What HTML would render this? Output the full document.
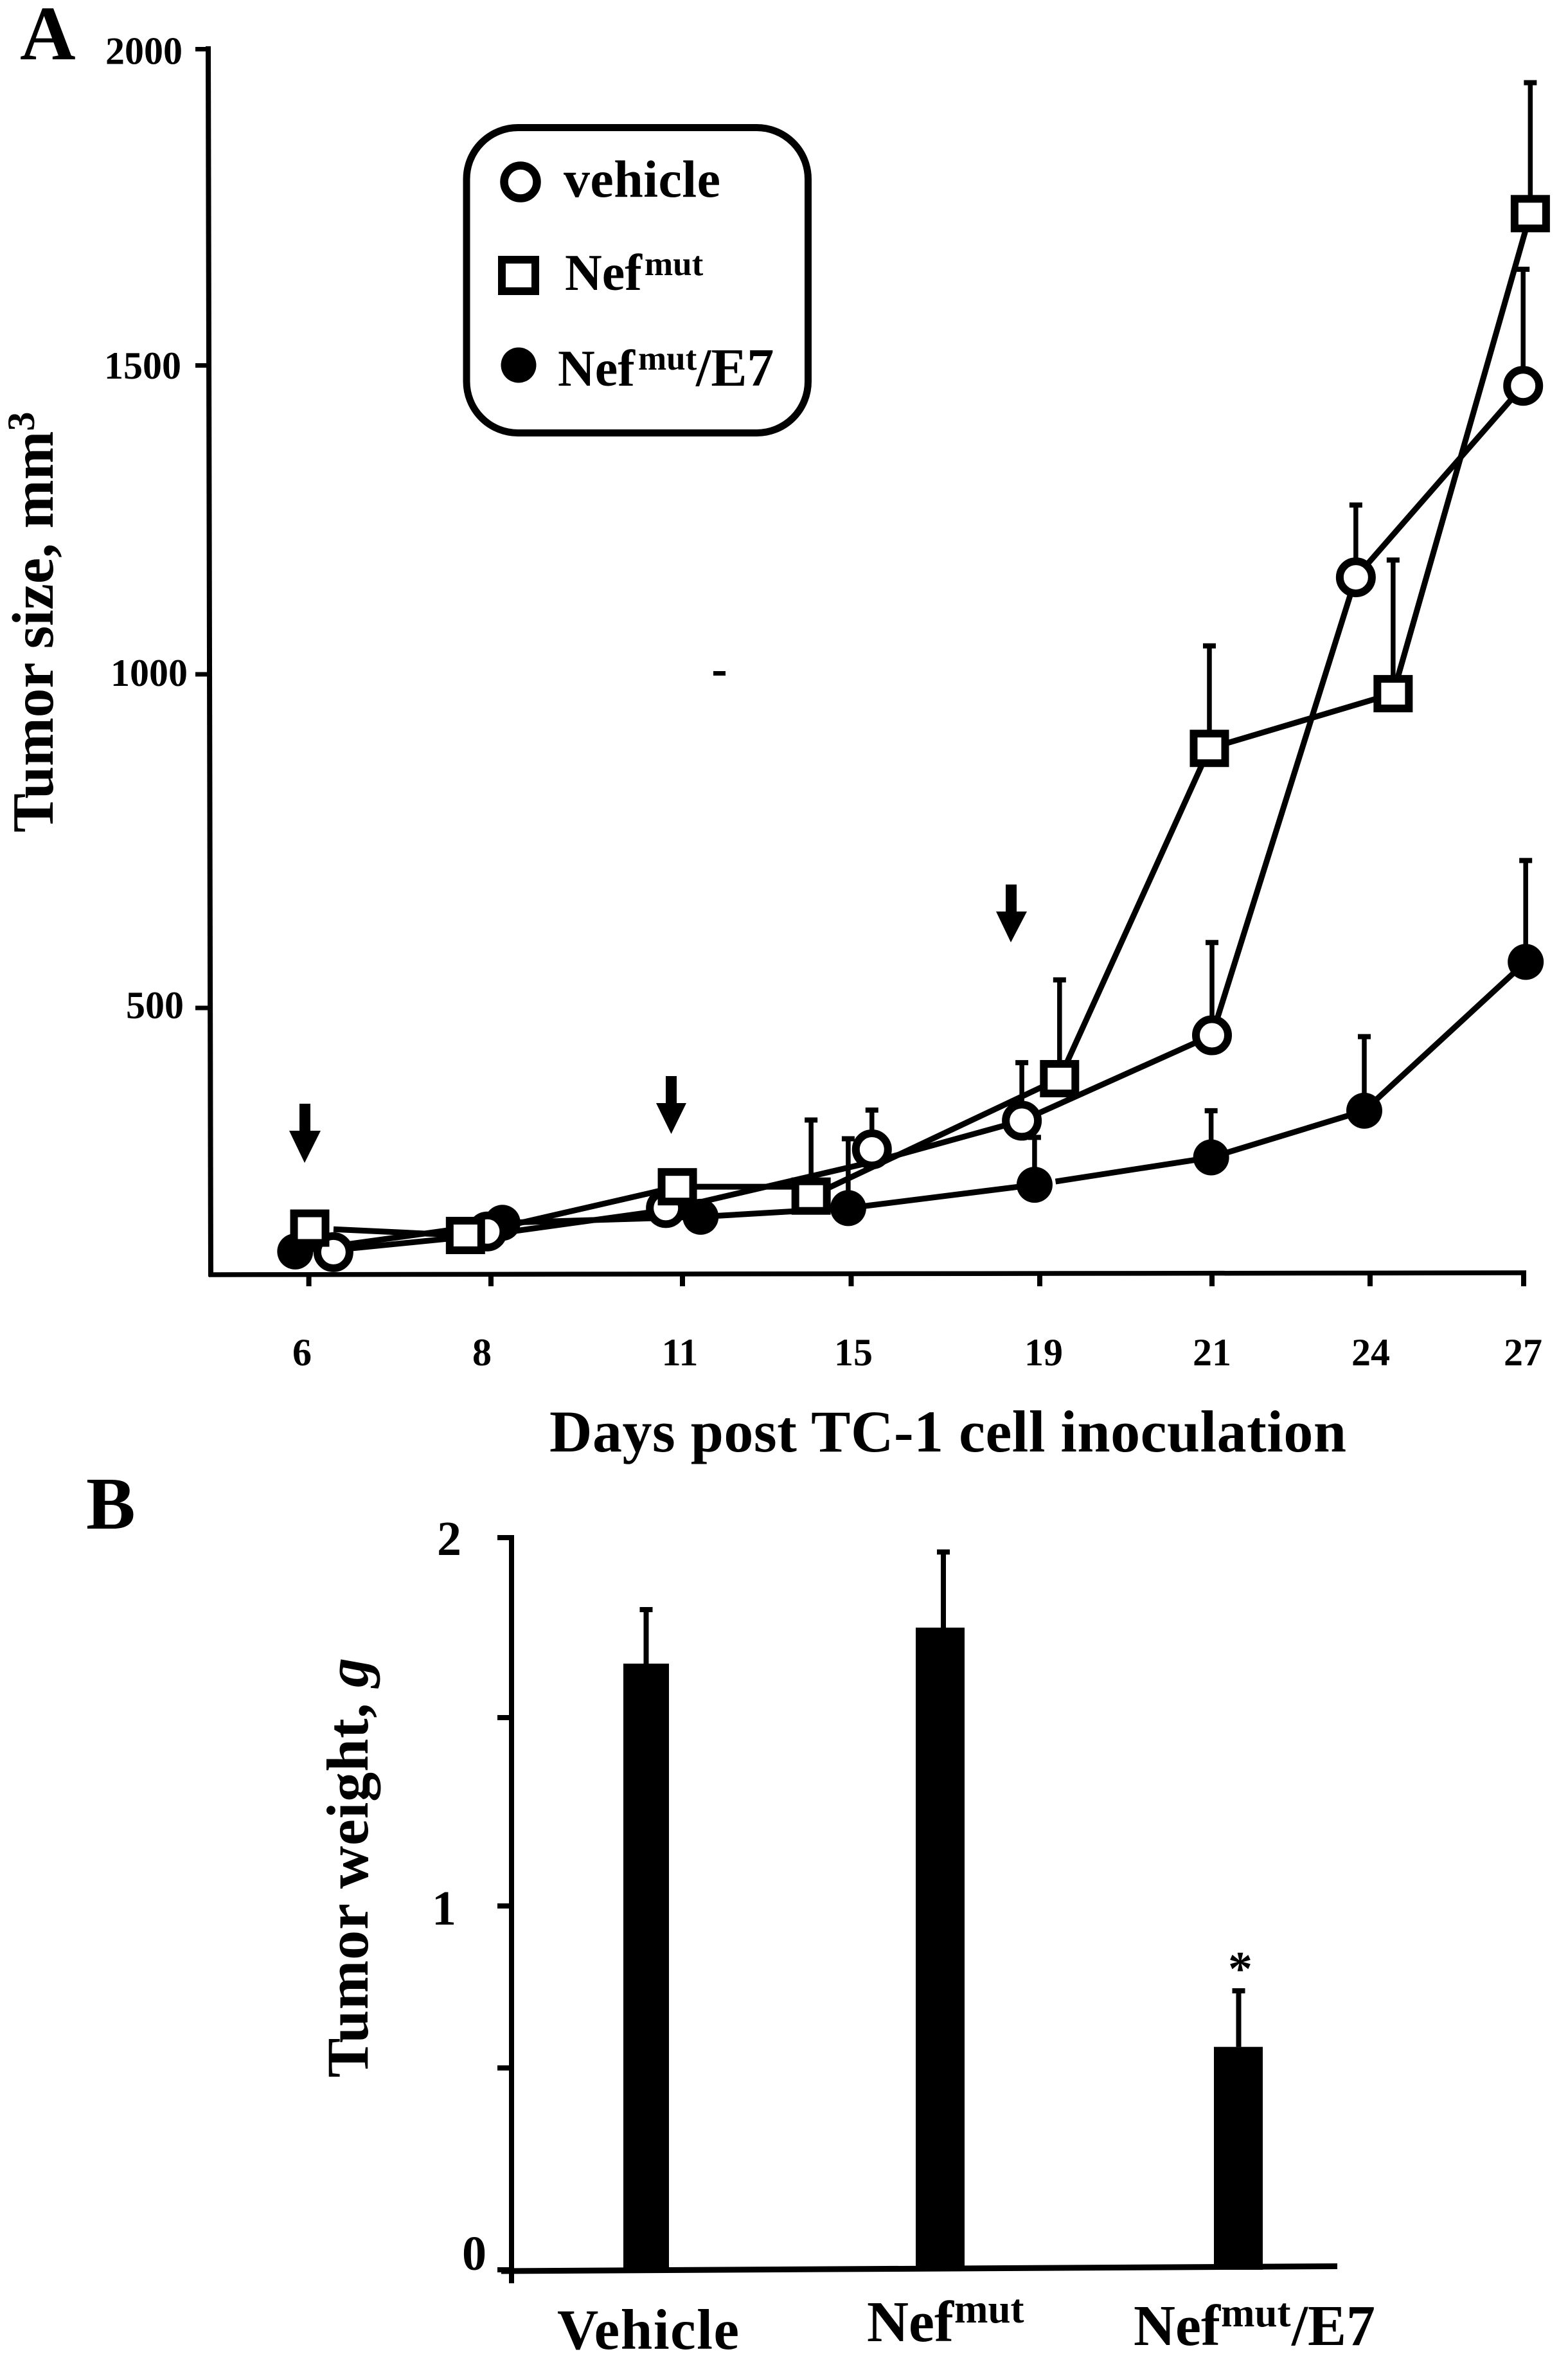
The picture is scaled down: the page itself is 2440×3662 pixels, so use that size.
<!DOCTYPE html>
<html lang="en">
<head>
<meta charset="utf-8">
<title>Tumor size and weight</title>
<style>
  html, body { margin: 0; padding: 0; background: #fff; }
  svg { display: block; }
  text { font-family: "Liberation Serif", serif; font-weight: bold; fill: #000; }
</style>
</head>
<body>
<svg id="figure" xmlns="http://www.w3.org/2000/svg" width="2440" height="3662" viewBox="0 0 2440 3662">
  <rect x="0" y="0" width="2440" height="3662" fill="#fff"/>

  <text x="31" y="92" font-size="120">A</text>
  <text x="134" y="2378" font-size="115">B</text>

  <g id="panelA"></g>

  <text transform="translate(82,1295) rotate(-90)" font-size="91">Tumor size, mm<tspan font-size="60" dy="-29">3</tspan></text>
  <text x="855" y="2258" font-size="92" textLength="1240">Days post TC-1 cell inoculation</text>
  <rect x="1110" y="1044" width="19" height="7" fill="#000"/>

  <polygon fill="#000" points="466,1717 483,1717 483,1759 499,1759 474,1809 450,1759 466,1759"/>
  <polygon fill="#000" points="1036,1674 1053,1674 1053,1716 1068,1716 1044.5,1764 1021,1716 1036,1716"/>
  <polygon fill="#000" points="1565,1376 1582,1376 1582,1418 1598,1418 1573,1466 1550,1418 1565,1418"/>

  <g>
    <rect x="726" y="198.5" width="531.5" height="475" rx="80" ry="80" fill="#fff" stroke="#000" stroke-width="11"/>
    <circle cx="810" cy="283" r="25.5" fill="#fff" stroke="#000" stroke-width="12.5"/>
    <text x="877" y="306" font-size="82" textLength="244">vehicle</text>
    <rect x="781" y="404" width="52" height="49" fill="#fff" stroke="#000" stroke-width="12"/>
    <text x="879" y="451" font-size="80">Nef<tspan x="1003" y="428" font-size="53">mut</tspan></text>
    <circle cx="807" cy="568" r="27.5" fill="#000"/>
    <text x="868" y="600" font-size="80">Nef<tspan x="993" y="575" font-size="53">mut</tspan><tspan x="1083" y="600" font-size="84">/E7</tspan></text>
  </g>

  <g id="panelB"></g>

  <text transform="translate(572,3232) rotate(-90)" font-size="92" textLength="653">Tumor weight, <tspan font-style="italic">g</tspan></text>
  <text x="1911" y="3088" font-size="76">*</text>
</svg>

<script>
// ---------- Panel A data ----------
const dayTicks = [6, 8, 11, 15, 19, 21, 24, 27];
const dayLabels = ["6", "8", "11", "15", "19", "21", "24", "27"];
const sizeTicks = [500, 1000, 1500, 2000];
const sizeLabels = ["500", "1000", "1500", "2000"];

const vehicleDays = [6.27, 7.96, 10.74, 15.44, 18.62, 21, 23.73, 26.99];
const vehicleSize = [134, 165, 200, 288, 331, 459, 1157, 1467];
const vehicleUpper = [null, null, null, 347, 418, 598, 1274, 1652];
// The printed connecting line misses some marker centres.
const vehicleLineSize = [137, 160, 197, 269, 331, 459, 1157, 1467];

const nefDays = [6.01, 7.72, 10.92, 14.05, 19.23, 20.97, 24.45, 27.13];
const nefSize = [170, 159, 232, 218, 394, 889, 971, 1740];
const nefUpper = [null, null, null, 332, 542, 1046, 1185, 1947];
// The printed line enters the fourth square flat and leaves it lower down.
const nefLineDays = [6.01, 7.72, 10.92, 14.05, 14.05, 19.23, 20.97, 24.45, 27.13];
const nefLineSize = [170, 159, 232, 232, 218, 394, 889, 971, 1740];

const nefE7Days = [5.85, 8.18, 11.43, 14.93, 18.89, 20.99, 23.89, 27.04];
const nefE7Size = [135, 178, 187, 200, 235, 276, 346, 569];
const nefE7Upper = [null, null, null, 304, 306, 346, 457, 721];

// ---------- Panel B data ----------
const weightGroups = ["Vehicle", "Nef", "Nef/E7"];
const weightMeans = [1.65, 1.75, 0.565];
const weightUpper = [1.80, 1.96, 0.738];
const weightTicks = [0, 0.5, 1, 1.5, 2];
const weightTickLabels = ["0", "", "1", "", "2"];

const SVG_NS = "http://www.w3.org/2000/svg";

function mk(parent, tag, attrs) {
  const el = document.createElementNS(SVG_NS, tag);
  Object.keys(attrs).forEach(function (k) { el.setAttribute(k, attrs[k]); });
  parent.appendChild(el);
  return el;
}

function piecewise(v, domain, range) {
  let i = 0;
  while (i < domain.length - 2 && v > domain[i + 1]) { i++; }
  const t = (v - domain[i]) / (domain[i + 1] - domain[i]);
  return range[i] + t * (range[i + 1] - range[i]);
}

// The printed axes are not evenly spaced, so the scales follow the printed ticks.
function xDay(day) {
  return piecewise(day, dayTicks, [480.6, 764, 1062, 1324.5, 1618, 1886, 2132, 2371]);
}
function ySize(size) {
  return piecewise(size, sizeTicks, [1568, 1049, 568.5, 76.5]);
}
function xGroup(i) {
  return [1005.5, 1463, 1927][i];
}
function yWeight(w) {
  return piecewise(w, weightTicks, [3531, 3217, 2965, 2672, 2392]);
}

const panelA = document.getElementById("panelA");
const panelB = document.getElementById("panelB");

// ---------- Panel A axes ----------
const yAxisA = mk(panelA, "line", { x1: 324, y1: 72, x2: 328, y2: 1986, stroke: "#000", "stroke-width": 8 });



const xAxisA = mk(panelA, "line", { x1: 325, y1: 1983, x2: 2375, y2: 1980, stroke: "#000", "stroke-width": 7.5 });



sizeTicks.forEach(function (v, i) {
  const y = ySize(v);
  const tick = mk(panelA, "line", { x1: 304, y1: y, x2: 326, y2: y, stroke: "#000", "stroke-width": 7 });
  
  
  const right = { 500: 286, 1000: 292, 1500: 282, 2000: 284 }[v];
  const drop = { 500: 16, 1000: 18, 1500: 20.5, 2000: 23 }[v];
  const label = mk(panelA, "text", { x: right, y: y + drop, "font-size": 60, "text-anchor": "end" });
  label.textContent = sizeLabels[i];
  
  
});

const dayLabelNudge = [-10.6, -14, -4, 3.5, 6, 0, 1, -1];
dayTicks.forEach(function (d, i) {
  const x = xDay(d);
  const tick = mk(panelA, "line", { x1: x, y1: 1981, x2: x, y2: 2001, stroke: "#000", "stroke-width": 8 });
  
  
  const label = mk(panelA, "text", { x: x + dayLabelNudge[i], y: 2124, "font-size": 60, "text-anchor": "middle" });
  label.textContent = dayLabels[i];
  
  
});

// ---------- Panel A series ----------
function drawErrorBars(name, days, means, upper) {
  days.forEach(function (d, i) {
    if (upper[i] === null) { return; }
    const x = xDay(d);
    const stem = mk(panelA, "line", { x1: x, y1: ySize(means[i]), x2: x, y2: ySize(upper[i]), stroke: "#000", "stroke-width": 7.5 });
    
    
    const cap = mk(panelA, "line", { x1: x - 10, y1: ySize(upper[i]), x2: x + 10, y2: ySize(upper[i]), stroke: "#000", "stroke-width": 8 });
    
    
  });
}

function drawLine(name, days, means) {
  const pts = days.map(function (d, i) { return xDay(d) + "," + ySize(means[i]); }).join(" ");
  const line = mk(panelA, "polyline", { points: pts, fill: "none", stroke: "#000", "stroke-width": 9, "stroke-linejoin": "round" });
  
  
}

// The printed figure has a small white break where a line leaves some markers.
function drawLineGap(name, days, means, i, reach) {
  const x1 = xDay(days[i]);
  const y1 = ySize(means[i]);
  const x2 = xDay(days[i + 1]);
  const y2 = ySize(means[i + 1]);
  const len = Math.hypot(x2 - x1, y2 - y1);
  const gap = mk(panelA, "line", { x1: x1, y1: y1, x2: x1 + (x2 - x1) * reach / len, y2: y1 + (y2 - y1) * reach / len, stroke: "#fff", "stroke-width": 12 });
  
  
}

// Error bars and lines sit under all of the markers.
drawErrorBars("nef-e7", nefE7Days, nefE7Size, nefE7Upper);
drawErrorBars("vehicle", vehicleDays, vehicleSize, vehicleUpper);
drawErrorBars("nef", nefDays, nefSize, nefUpper);
drawLine("nef-e7", nefE7Days, nefE7Size);
drawLine("vehicle", vehicleDays, vehicleLineSize);
drawLine("nef", nefLineDays, nefLineSize);
drawLineGap("nef", nefDays, nefSize, 0, 37);
drawLineGap("nef-e7", nefE7Days, nefE7Size, 4, 33);

nefE7Days.forEach(function (d, i) {
  const m = mk(panelA, "circle", { cx: xDay(d), cy: ySize(nefE7Size[i]), r: 28, fill: "#000" });
  
  
});
vehicleDays.forEach(function (d, i) {
  const m = mk(panelA, "circle", { cx: xDay(d), cy: ySize(vehicleSize[i]), r: 25, fill: "#fff", stroke: "#000", "stroke-width": 12 });
  
  
});
nefDays.forEach(function (d, i) {
  const m = mk(panelA, "rect", { x: xDay(d) - 24.5, y: ySize(nefSize[i]) - 23, width: 49, height: 46, fill: "#fff", stroke: "#000", "stroke-width": 12 });
  
  
});

// ---------- Panel B ----------
const yAxisB = mk(panelB, "line", { x1: 796, y1: 2388, x2: 796, y2: 3552, stroke: "#000", "stroke-width": 8 });



const xAxisB = mk(panelB, "line", { x1: 780, y1: 3533, x2: 2081, y2: 3525.5, stroke: "#000", "stroke-width": 9 });



weightTicks.forEach(function (w, i) {
  const y = yWeight(w);
  const tick = mk(panelB, "line", { x1: 774, y1: y, x2: 798, y2: y, stroke: "#000", "stroke-width": 8 });
  
  
  if (weightTickLabels[i] !== "") {
    const lx = { 0: 719, 1: 672, 2: 680 }[w];
    const drop = { 0: 0, 1: 29, 2: 27 }[w];
    const label = mk(panelB, "text", { x: lx, y: y + drop, "font-size": 76 });
    label.textContent = weightTickLabels[i];
    
    
  }
});

weightGroups.forEach(function (g, i) {
  const x = xGroup(i);
  const slug = g.toLowerCase().replace("/", "-");
  const stemX = x + [0, 5, 0.5][i];
  const barWidth = [71, 76, 76][i];
  const stem = mk(panelB, "line", { x1: stemX, y1: yWeight(weightMeans[i]), x2: stemX, y2: yWeight(weightUpper[i]), stroke: "#000", "stroke-width": 8 });
  
  
  const cap = mk(panelB, "line", { x1: stemX - 10, y1: yWeight(weightUpper[i]), x2: stemX + 10, y2: yWeight(weightUpper[i]), stroke: "#000", "stroke-width": 8 });
  
  
  const bar = mk(panelB, "rect", { x: x - barWidth / 2, y: yWeight(weightMeans[i]), width: barWidth, height: yWeight(0) - yWeight(weightMeans[i]), fill: "#000" });
  
  
});

const vehicleLabel = mk(panelB, "text", { x: 867, y: 3654, "font-size": 89, textLength: 283 });
vehicleLabel.textContent = weightGroups[0];



const nefLabel = mk(panelB, "text", { x: 1349, y: 3642, "font-size": 90 });
nefLabel.textContent = weightGroups[1];



const nefSup = mk(panelB, "text", { x: 1485, y: 3613, "font-size": 63 });
nefSup.textContent = "mut";



const nefE7Label = mk(panelB, "text", { x: 1764, y: 3648, "font-size": 90 });
nefE7Label.textContent = "Nef";



const nefE7Sup = mk(panelB, "text", { x: 1900, y: 3619, "font-size": 63 });
nefE7Sup.textContent = "mut";



const nefE7Tail = mk(panelB, "text", { x: 2010, y: 3648, "font-size": 90 });
nefE7Tail.textContent = "/E7";


</script>
</body>
</html>
